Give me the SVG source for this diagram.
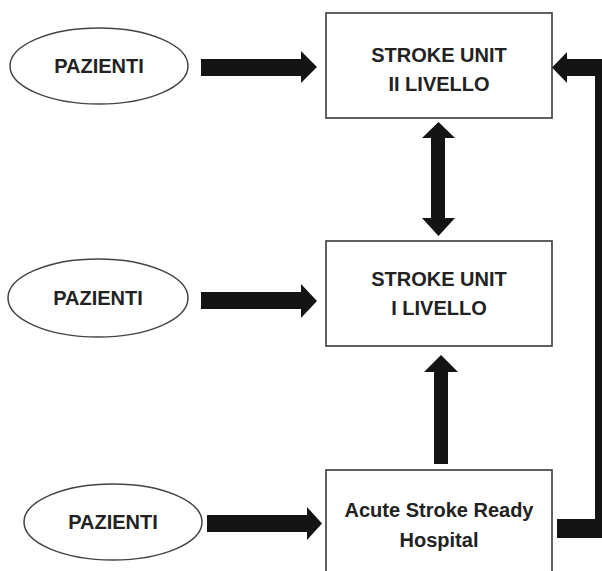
<svg xmlns="http://www.w3.org/2000/svg" width="602" height="571" viewBox="0 0 602 571">
<style>
.bg{fill:#ffffff}
.box{fill:#ffffff;stroke:#3a3a3a;stroke-width:1.6}
.ell{fill:#ffffff;stroke:#444444;stroke-width:1.5}
.t{font-family:"Liberation Sans",Arial,sans-serif;font-weight:bold;font-size:20px;fill:#222222;text-anchor:middle}
.arr{fill:#141414;stroke:none}
</style>
<rect class="bg" x="0" y="0" width="602" height="571"/>
<g id="connectors">
<polygon class="arr" points="201,59 301,59 301,51 317,67 301,83 301,76 201,76"/>
<polygon class="arr" points="201,292 301,292 301,284 317,301 301,318 301,309 201,309"/>
<polygon class="arr" points="207,515 307,515 307,507 322,523.5 307,540 307,532 207,532"/>
<polygon class="arr" points="438.5,122 455,138 445,138 445,218 455,218 438.5,236 422,218 431,218 431,138 422,138"/>
<polygon class="arr" points="441,355 458,372 448,372 448,464 434,464 434,372 424,372"/>
<polygon class="arr" points="567,52 567,59 605,59 605,538 557,538 557,519 595,519 595,76 567,76 567,83 552,67.5"/>
</g>
<g id="pazienti1">
<ellipse class="ell" cx="99" cy="66" rx="89" ry="38"/>
<text class="t" x="99" y="73">PAZIENTI</text>
</g>
<g id="pazienti2">
<ellipse class="ell" cx="98" cy="298" rx="90" ry="39"/>
<text class="t" x="98" y="305">PAZIENTI</text>
</g>
<g id="pazienti3">
<ellipse class="ell" cx="113" cy="522" rx="89" ry="38"/>
<text class="t" x="113" y="529">PAZIENTI</text>
</g>
<g id="su2">
<rect class="box" x="326" y="13" width="226" height="105"/>
<text class="t" x="439" y="62">STROKE UNIT</text>
<text class="t" x="439" y="91">II LIVELLO</text>
</g>
<g id="su1">
<rect class="box" x="326" y="241" width="226" height="105"/>
<text class="t" x="439" y="286">STROKE UNIT</text>
<text class="t" x="439" y="315">I LIVELLO</text>
</g>
<g id="asrh">
<rect class="box" x="326" y="470" width="226" height="110"/>
<text class="t" x="439" y="517">Acute Stroke Ready</text>
<text class="t" x="439" y="547">Hospital</text>
</g>
</svg>
